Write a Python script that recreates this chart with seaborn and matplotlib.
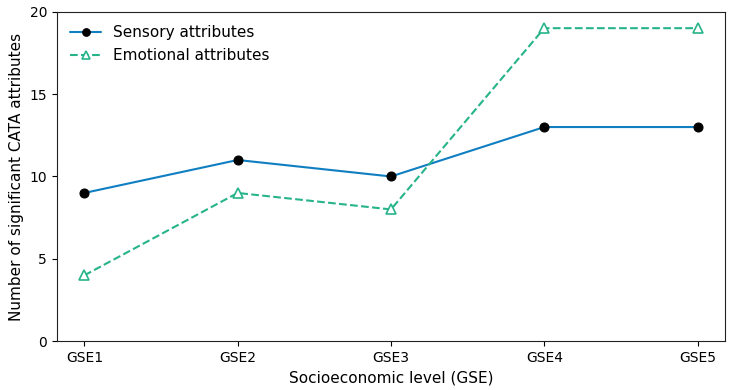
import pandas as pd
import seaborn as sns
import matplotlib.pyplot as plt

# Data
levels = ['GSE1', 'GSE2', 'GSE3', 'GSE4', 'GSE5']
sensory = [9, 11, 10, 13, 13]
emotional = [4, 9, 8, 19, 19]

df = pd.DataFrame({'GSE': levels, 'Sensory': sensory, 'Emotional': emotional})

sns.set_style('ticks')
plt.rcParams['font.family'] = ['DejaVu Sans']
plt.rcParams['text.color'] = 'black'
plt.rcParams['axes.labelcolor'] = 'black'
plt.rcParams['xtick.color'] = 'black'
plt.rcParams['ytick.color'] = 'black'

fig, ax = plt.subplots(figsize=(7.37, 3.9), dpi=100)

sns.lineplot(data=df, x='GSE', y='Sensory', ax=ax, color='#0f7fc2', marker='o',
             markersize=6.5, markerfacecolor='black', markeredgecolor='black',
             linewidth=1.5, label='Sensory attributes', sort=False)
sns.lineplot(data=df, x='GSE', y='Emotional', ax=ax, color='#27b48a', marker='^',
             markersize=6.5, markerfacecolor='white', markeredgecolor='#27b48a',
             markeredgewidth=1.2, linestyle='--', linewidth=1.5,
             label='Emotional attributes', sort=False)

ax.set_ylim(0, 20)
ax.set_xlim(-0.18, 4.18)
ax.set_yticks([0, 5, 10, 15, 20])
ax.set_xlabel('Socioeconomic level (GSE)', fontsize=11)
ax.set_ylabel('Number of significant CATA attributes', fontsize=11)
ax.tick_params(labelsize=10)
for s in ax.spines.values():
    s.set_visible(True)
    s.set_color('#222222')
ax.legend(loc='upper left', frameon=False, fontsize=11, markerscale=0.85)

plt.subplots_adjust(left=0.077, right=0.984, top=0.97, bottom=0.125)
plt.savefig('out.png')
